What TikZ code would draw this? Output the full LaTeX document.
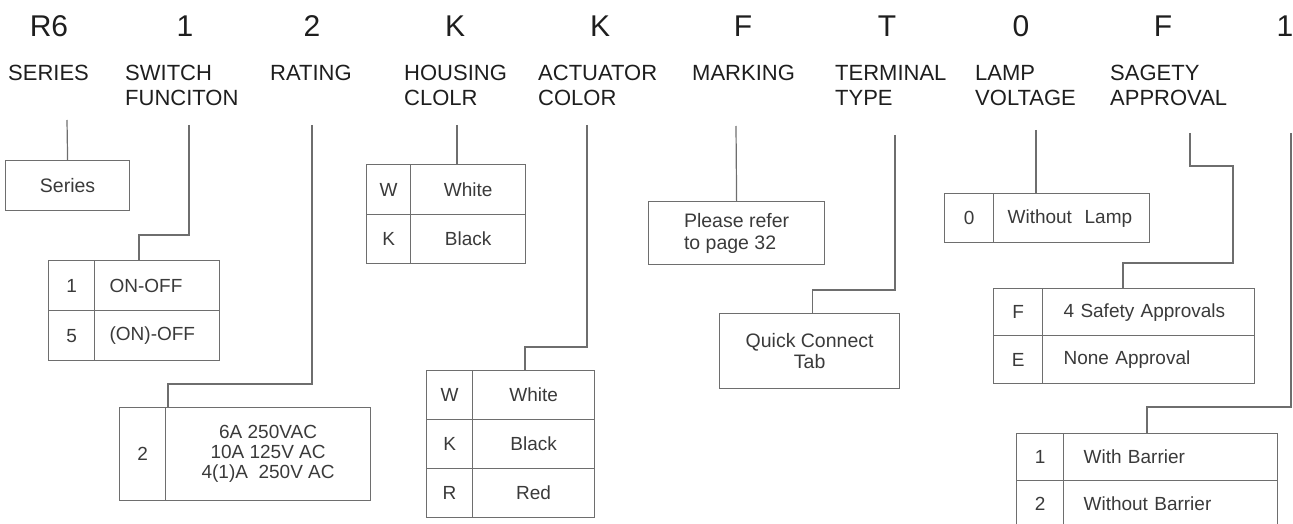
\documentclass[tikz,border=0pt]{standalone}
\usepackage{fontspec}
\setmainfont{Liberation Sans}
\usepackage{tikz}
\definecolor{lgray}{HTML}{6E6E6E}
\definecolor{tgray}{HTML}{3A3A3A}
\definecolor{tdark}{HTML}{1E1E1E}
\tikzset{
  code/.style={font=\fontsize{30}{30}\selectfont, text=tdark, inner sep=0pt, anchor=base},
  head/.style={font=\fontsize{22}{25}\selectfont, text=tdark, inner sep=0pt, anchor=base west, align=left},
  cell/.style={draw=lgray, line width=1.2pt, inner sep=0pt, anchor=north west, text=tgray, font=\fontsize{19}{20}\selectfont},
  wire/.style={draw=lgray, line width=1.2pt},
}

\begin{document}
\begin{tikzpicture}[x=1pt,y=-1pt]
\useasboundingbox (0,0) rectangle (1293,524);
%型番%
\node[code] (cR) at (49,37) {R6};
\node[code] (cSw) at (185,37) {1};
\node[code] (cRt) at (312,37) {2};
\node[code] (cHs) at (455,37) {K};
\node[code] (cAc) at (600,37) {K};
\node[code] (cMk) at (743,37) {F};
\node[code] (cTm) at (887,37) {T};
\node[code] (cLp) at (1021,37) {0};
\node[code] (cSf) at (1163,37) {F};
\node[code] (cBr) at (1285,37) {1};
%項目名（二行のものは下の行の基線）%
\node[head] (hR) at (8,81) {SERIES};
\node[head] (hSw) at (125,106) {SWITCH\\FUNCITON};
\node[head] (hRt) at (270,81) {RATING};
\node[head] (hHs) at (404,106) {HOUSING\\CLOLR};
\node[head] (hAc) at (538,106) {ACTUATOR\\COLOR};
\node[head] (hMk) at (692,81) {MARKING};
\node[head] (hTm) at (835,106) {TERMINAL\\TYPE};
\node[head] (hLp) at (975,106) {LAMP\\VOLTAGE};
\node[head] (hSf) at (1110,106) {SAGETY\\APPROVAL};
%表%
\node[cell, minimum width=124pt, minimum height=50pt, font=\fontsize{19.5}{22}\selectfont] (ser) at (5,160) {Series};
\node[cell, minimum width=46pt, minimum height=50pt] (sw1k) at (48,260) {1};
\node[cell, minimum height=50pt, text width=95pt, inner xsep=15pt, align=left] (sw1v) at (94,260) {ON-OFF};
\node[cell, minimum width=46pt, minimum height=50pt] (sw5k) at (48,310) {5};
\node[cell, minimum height=50pt, text width=95pt, inner xsep=15pt, align=left] (sw5v) at (94,310) {(ON)-OFF};
\node[cell, minimum width=46pt, minimum height=93pt] (rk) at (119,407) {2};
\node[cell, minimum width=205pt, minimum height=93pt, align=center] (rv) at (165,407) {6A 250VAC\\10A 125V AC\\4(1)A\ \ 250V AC};
\node[cell, minimum width=44pt, minimum height=50pt] (hwk) at (366,164) {W};
\node[cell, minimum width=115pt, minimum height=50pt] (hwv) at (410,164) {White};
\node[cell, minimum width=44pt, minimum height=49pt] (hkk) at (366,214) {K};
\node[cell, minimum width=115pt, minimum height=49pt] (hkv) at (410,214) {Black};
\node[cell, minimum width=46pt, minimum height=49pt] (awk) at (426,370) {W};
\node[cell, minimum width=122pt, minimum height=49pt] (awv) at (472,370) {White};
\node[cell, minimum width=46pt, minimum height=49pt] (akk) at (426,419) {K};
\node[cell, minimum width=122pt, minimum height=49pt] (akv) at (472,419) {Black};
\node[cell, minimum width=46pt, minimum height=49pt] (ark) at (426,468) {R};
\node[cell, minimum width=122pt, minimum height=49pt] (arv) at (472,468) {Red};
\node[cell, minimum width=176pt, minimum height=63pt, align=left, font=\fontsize{19.5}{22}\selectfont] (mk) at (648,201) {Please refer\\to page 32};
\node[cell, minimum width=180pt, minimum height=75pt, align=center, font=\fontsize{19.5}{21}\selectfont] (tm) at (719,313) {Quick Connect\\Tab};
\node[cell, minimum width=49pt, minimum height=49pt] (l0k) at (944,193) {0};
\node[cell, minimum height=49pt, text width=128pt, inner xsep=14pt, align=left] (l0v) at (993,193) {Without\ \ Lamp};
\node[cell, minimum width=49pt, minimum height=47pt] (sfk) at (993,288) {F};
\node[cell, minimum height=47pt, text width=170pt, inner xsep=21pt, align=left] (sfv) at (1042,288) {4 Safety Approvals};
\node[cell, minimum width=49pt, minimum height=48pt] (sek) at (993,335) {E};
\node[cell, minimum height=48pt, text width=170pt, inner xsep=21pt, align=left] (sev) at (1042,335) {None Approval};
\node[cell, minimum width=47pt, minimum height=47pt] (b1k) at (1016,433) {1};
\node[cell, minimum height=47pt, text width=174pt, inner xsep=20pt, align=left] (b1v) at (1063,433) {With Barrier};
\node[cell, minimum width=47pt, minimum height=47pt] (b2k) at (1016,480) {2};
\node[cell, minimum height=47pt, text width=174pt, inner xsep=20pt, align=left] (b2v) at (1063,480) {Without Barrier};
%線%
\coordinate (serT) at (67,120);
\coordinate (swT) at (189,125);
\coordinate (rtT) at (312,125);
\coordinate (hsT) at (457,125);
\coordinate (acT) at (587,125);
\coordinate (mkT) at (736,126);
\coordinate (tmT) at (895,135);
\coordinate (lpT) at (1036,130);
\coordinate (sfT) at (1190,133);
\coordinate (brT) at (1291,133);
\draw[wire] (serT) -- (ser.north);
\draw[wire] (swT) -- ++(0,110) -| ([xshift=45pt]sw1v.north west);
\draw[wire] (rtT) -- ++(0,259) -| ([xshift=3pt]rv.north west);
\draw[wire] (hsT) -- (hsT |- hwv.north);
\draw[wire] (acT) -- ++(0,222) -| ([xshift=53pt]awv.north west);
\draw[wire] (mkT) -- (mk.north);
\draw[wire] (tmT) -- ++(0,155) -| ([xshift=3pt]tm.north);
\draw[wire] (lpT) -- (lpT |- l0v.north);
\draw[wire] (sfT) -- ++(0,33) -- ++(43,0) -- ++(0,97) -| ([xshift=81pt]sfv.north west);
\draw[wire] (brT) -- ++(0,274) -| ([xshift=84pt]b1v.north west);
\end{tikzpicture}
\end{document}
